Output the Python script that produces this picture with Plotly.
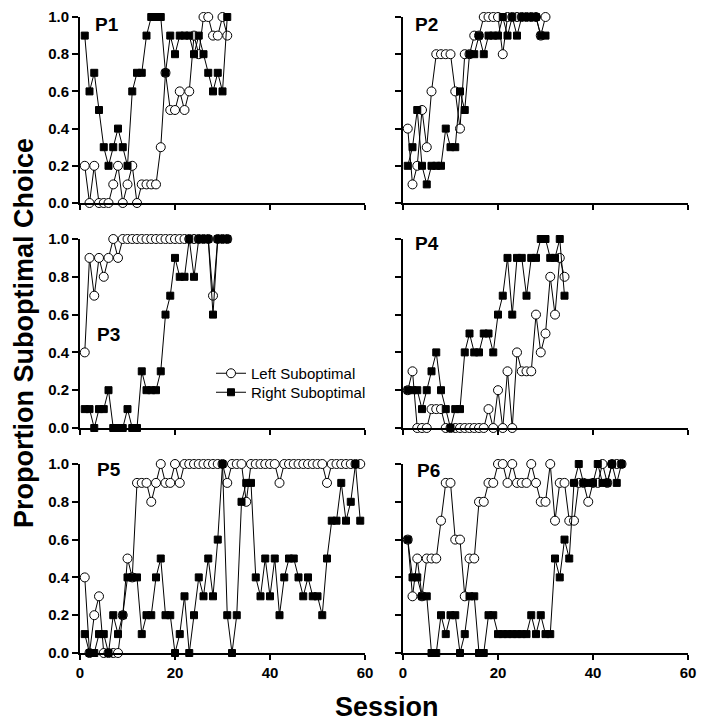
import plotly.graph_objects as go

# ---------------- data (proportion suboptimal choice per session) ----------------
panel_names = ["P1", "P2", "P3", "P4", "P5", "P6"]
series_names = ["Left Suboptimal", "Right Suboptimal"]

p1_left = [0.2, 0, 0.2, 0, 0, 0, 0.1, 0.2, 0, 0.1, 0.2, 0, 0.1, 0.1, 0.1, 0.1, 0.3, 0.7, 0.5, 0.5,
           0.6, 0.5, 0.6, 0.9, 0.8, 1.0, 1.0, 0.9, 0.9, 1.0, 0.9]
p1_right = [0.9, 0.6, 0.7, 0.5, 0.3, 0.2, 0.3, 0.4, 0.3, 0.2, 0.6, 0.7, 0.7, 0.9, 1.0, 1.0, 1.0, 0.7, 0.9, 0.8,
            0.9, 0.9, 0.9, 0.8, 0.9, 0.8, 0.7, 0.6, 0.7, 0.6, 1.0]

p2_left = [0.4, 0.1, 0.2, 0.5, 0.3, 0.6, 0.8, 0.8, 0.8, 0.8, 0.6, 0.4, 0.8, 0.8, 0.9, 0.9, 1.0, 1.0, 1.0, 1.0,
           0.8, 1.0, 1.0, 1.0, 1.0, 1.0, 1.0, 1.0, 0.9, 1.0]
p2_right = [0.2, 0.3, 0.5, 0.2, 0.1, 0.2, 0.2, 0.2, 0.4, 0.3, 0.3, 0.6, 0.5, 0.8, 0.8, 0.9, 0.8, 0.9, 0.9, 0.9,
            1.0, 0.9, 1.0, 0.9, 1.0, 1.0, 1.0, 1.0, 0.9, 0.9]

p3_left = [0.4, 0.9, 0.7, 0.9, 0.8, 0.9, 1.0, 0.9, 1.0, 1.0, 1.0, 1.0, 1.0, 1.0, 1.0, 1.0, 1.0, 1.0, 1.0, 1.0,
           1.0, 1.0, 1.0, 1.0, 1.0, 1.0, 1.0, 0.7, 1.0, 1.0, 1.0]
p3_right = [0.1, 0.1, 0, 0.1, 0.1, 0.2, 0, 0, 0, 0.1, 0, 0, 0.3, 0.2, 0.2, 0.2, 0.3, 0.6, 0.7, 0.9,
            0.8, 0.8, 1.0, 0.8, 1.0, 1.0, 1.0, 0.6, 1.0, 1.0, 1.0]

p4_left = [0.2, 0.3, 0, 0, 0, 0.1, 0.1, 0.1, 0, 0, 0, 0, 0, 0, 0, 0, 0, 0.1, 0, 0.2,
           0, 0.3, 0, 0.4, 0.3, 0.3, 0.3, 0.6, 0.4, 0.5, 0.8, 0.6, 0.9, 0.8]
p4_right = [0.2, 0.2, 0.2, 0.1, 0.2, 0.3, 0.4, 0.2, 0.1, 0, 0.1, 0.1, 0.4, 0.5, 0.4, 0.4, 0.5, 0.5, 0.4, 0.6,
            0.7, 0.9, 0.6, 0.9, 0.9, 0.7, 0.9, 0.9, 1.0, 1.0, 0.9, 0.9, 1.0, 0.7]

p5_left = [0.4, 0, 0.2, 0.3, 0, 0, 0, 0, 0.2, 0.5, 0.4, 0.9, 0.9, 0.9, 0.8, 0.9, 1.0, 0.9, 0.9, 1.0,
           0.9, 1.0, 1.0, 1.0, 1.0, 1.0, 1.0, 1.0, 1.0, 1.0, 0.9, 1.0, 1.0, 1.0, 0.8, 1.0, 1.0, 1.0, 1.0, 1.0,
           1.0, 0.9, 1.0, 1.0, 1.0, 1.0, 1.0, 1.0, 1.0, 1.0, 1.0, 0.9, 1.0, 1.0, 1.0, 1.0, 1.0, 1.0, 1.0]
p5_right = [0.1, 0, 0, 0.1, 0.1, 0, 0.2, 0.1, 0.2, 0.4, 0.4, 0.4, 0.1, 0.2, 0.2, 0.4, 0.5, 0.2, 0.2, 0,
            0.1, 0.3, 0, 0.2, 0.4, 0.3, 0.5, 0.3, 0.6, 1.0, 0.2, 0, 0.2, 0.8, 0.9, 0.9, 0.4, 0.3, 0.5, 0.3,
            0.5, 0.2, 0.4, 0.5, 0.5, 0.4, 0.3, 0.4, 0.3, 0.3, 0.2, 0.5, 0.7, 0.7, 0.9, 0.7, 0.8, 1.0, 0.7]

p6_left = [0.6, 0.3, 0.5, 0.3, 0.5, 0.5, 0.5, 0.7, 0.9, 0.9, 0.6, 0.6, 0.3, 0.5, 0.5, 0.8, 0.8, 0.9, 0.9, 1.0,
           1.0, 0.9, 1.0, 0.9, 0.9, 0.9, 1.0, 0.9, 0.8, 0.8, 1.0, 0.7, 0.9, 0.9, 0.7, 0.7, 0.9, 0.9, 0.8, 0.9,
           0.9, 1.0, 0.9, 1.0, 1.0, 1.0]
p6_right = [0.6, 0.4, 0.4, 0.3, 0.3, 0, 0, 0.2, 0.1, 0.2, 0.2, 0, 0.1, 0.3, 0.3, 0, 0, 0.2, 0.2, 0.1,
            0.1, 0.1, 0.1, 0.1, 0.1, 0.1, 0.2, 0.1, 0.2, 0.1, 0.1, 0.5, 0.4, 0.6, 0.5, 0.9, 1.0, 0.9, 0.9, 0.9,
            1.0, 0.9, 0.9, 1.0, 0.9, 1.0]

x_ticks = [0, 20, 40, 60]
x_ticklabels = ["0", "20", "40", "60"]
y_ticks = [0, 0.2, 0.4, 0.6, 0.8, 1.0]
y_ticklabels = ["0.0", "0.2", "0.4", "0.6", "0.8", "1.0"]

panels_left = [p1_left, p2_left, p3_left, p4_left, p5_left, p6_left]
panels_right = [p1_right, p2_right, p3_right, p4_right, p5_right, p6_right]

# ---------------- layout geometry (screen pixels; the page body adds an 8 px offset) ----------------
OFF = 8
W, H = 705 - OFF, 726 - OFF
FONT = "Liberation Sans, Arial, Helvetica, sans-serif"
col_px = [(80, 365), (403, 688)]
row_px = [(17, 203), (239, 428), (464, 653)]
label_px = [(93, 25), (413, 25), (95, 334), (413, 244), (95, 469), (415, 470)]


def px_x(v):
    return (v - OFF) / W


def px_y(v):
    return 1 - (v - OFF) / H


fig = go.Figure()
layout = dict(
    width=W, height=H,
    margin=dict(l=0, r=0, t=0, b=0, autoexpand=False),
    paper_bgcolor="white", plot_bgcolor="white",
    font=dict(family=FONT, color="black"),
    showlegend=True,
    legend=dict(x=px_x(211), y=px_y(357), xanchor="left", yanchor="top",
                font=dict(family=FONT, size=15, color="black"),
                bgcolor="rgba(0,0,0,0)", borderwidth=0, itemwidth=30),
    legend2=dict(x=px_x(211), y=px_y(376), xanchor="left", yanchor="top",
                 font=dict(family=FONT, size=15, color="black"),
                 bgcolor="rgba(0,0,0,0)", borderwidth=0, itemwidth=30),
)

annotations = []
for i in range(6):
    r, c = divmod(i, 2)
    k = "" if i == 0 else str(i + 1)
    xa, ya = "x" + k, "y" + k
    x0, x1 = col_px[c]
    y0, y1 = row_px[r]
    tickfont = dict(family=FONT, size=15, color="black", weight="bold")
    layout["xaxis" + k] = dict(
        domain=[px_x(x0), px_x(x1)], range=[0, 60], anchor=ya,
        showline=True, linecolor="black", linewidth=2,
        ticks="outside", ticklen=5, tickwidth=2, tickcolor="black",
        tickvals=x_ticks, ticktext=x_ticklabels, showticklabels=(r == 2),
        showgrid=False, zeroline=False, tickfont=tickfont,
        ticklabeloverflow="allow",
    )
    layout["yaxis" + k] = dict(
        domain=[px_y(y1), px_y(y0)], range=[0, 1], anchor=xa,
        showline=True, linecolor="black", linewidth=2,
        ticks="outside", ticklen=6, tickwidth=2, tickcolor="black",
        tickvals=y_ticks, ticktext=y_ticklabels, showticklabels=(c == 0),
        showgrid=False, zeroline=False, tickfont=tickfont,
        ticklabeloverflow="allow",
    )
    lv = panels_left[i]
    rv = panels_right[i]
    fig.add_trace(go.Scatter(
        x=list(range(1, len(lv) + 1)), y=lv, xaxis=xa, yaxis=ya,
        mode="lines+markers", name=series_names[0], legend="legend",
        showlegend=(i == 0), cliponaxis=False,
        line=dict(color="black", width=1),
        marker=dict(symbol="circle", size=9, color="white",
                    line=dict(color="black", width=1)),
    ))
    fig.add_trace(go.Scatter(
        x=list(range(1, len(rv) + 1)), y=rv, xaxis=xa, yaxis=ya,
        mode="lines+markers", name=series_names[1], legend="legend2",
        showlegend=(i == 0), cliponaxis=False,
        line=dict(color="black", width=1),
        marker=dict(symbol="square", size=7, color="black",
                    line=dict(color="black", width=1)),
    ))
    lx, ly = label_px[i]
    annotations.append(dict(
        text="<b>" + panel_names[i] + "</b>", x=px_x(lx), y=px_y(ly),
        xref="paper", yref="paper", xanchor="left", yanchor="middle",
        showarrow=False, font=dict(family=FONT, size=19, color="black"),
    ))

annotations.append(dict(
    text="<b>Proportion Suboptimal Choice</b>", x=px_x(24), y=px_y(333),
    xref="paper", yref="paper", xanchor="center", yanchor="middle",
    textangle=-90, showarrow=False, font=dict(family=FONT, size=27, color="black"),
))
annotations.append(dict(
    text="<b>Session</b>", x=px_x(387), y=px_y(707),
    xref="paper", yref="paper", xanchor="center", yanchor="middle",
    showarrow=False, font=dict(family=FONT, size=27, color="black"),
))
layout["annotations"] = annotations
fig.update_layout(**layout)
fig.write_html("out.html")
